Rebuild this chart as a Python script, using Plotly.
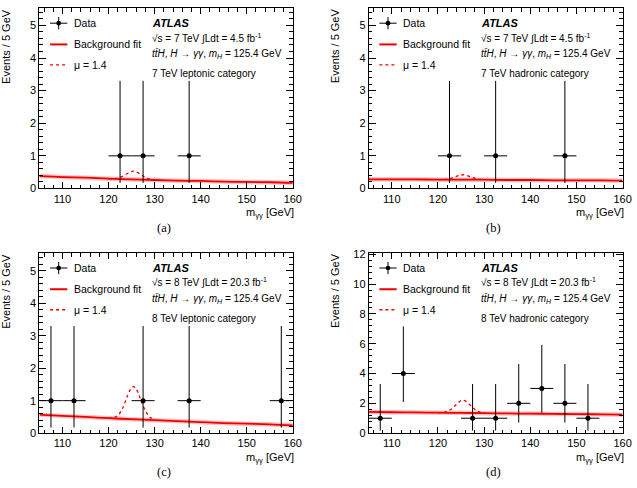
import plotly.graph_objects as go

# ---------------- data ----------------
fit_mass = [105, 110, 115, 120, 125, 130, 135, 140, 145, 150, 155, 160]
bkg_a = [0.38, 0.35, 0.33, 0.30, 0.28, 0.26, 0.24, 0.23, 0.21, 0.20, 0.19, 0.17]
bkg_b = [0.28, 0.28, 0.28, 0.27, 0.27, 0.27, 0.26, 0.26, 0.25, 0.25, 0.25, 0.24]
bkg_c = [0.57, 0.53, 0.50, 0.46, 0.43, 0.40, 0.37, 0.34, 0.31, 0.29, 0.27, 0.24]
bkg_d = [1.42, 1.40, 1.39, 1.37, 1.36, 1.34, 1.32, 1.31, 1.29, 1.28, 1.26, 1.24]

sig_mass = [120, 121, 122, 123, 124, 125, 125.4, 126, 127, 128, 129, 130]
sig_a = [0.30, 0.30, 0.32, 0.37, 0.45, 0.52, 0.53, 0.51, 0.43, 0.34, 0.28, 0.26]
sig_b = [0.27, 0.27, 0.29, 0.32, 0.37, 0.41, 0.42, 0.41, 0.36, 0.31, 0.28, 0.27]
sig_c = [0.46, 0.47, 0.54, 0.75, 1.11, 1.40, 1.43, 1.36, 1.03, 0.69, 0.49, 0.41]
sig_d = [1.37, 1.39, 1.45, 1.63, 1.93, 2.18, 2.21, 2.15, 1.87, 1.59, 1.42, 1.35]

data_mass_a = [122.5, 127.5, 137.5]
data_ev_a = [1, 1, 1]
data_mass_b = [122.5, 132.5, 147.5]
data_ev_b = [1, 1, 1]
data_mass_c = [107.5, 112.5, 127.5, 137.5, 157.5]
data_ev_c = [1, 1, 1, 1, 1]
data_mass_d = [107.5, 112.5, 127.5, 132.5, 137.5, 142.5, 147.5, 152.5]
data_ev_d = [1, 4, 1, 1, 2, 3, 2, 1]

# Poisson error bar extents
err_up_by_n = {1: 2.30, 2: 2.64, 3: 2.92, 4: 3.16}
err_dn_by_n = {1: 0.83, 2: 1.29, 3: 1.63, 4: 1.91}
bin_width = 5

sqrt_s = ["7", "7", "8", "8"]
lumi = ["4.5", "4.5", "20.3", "20.3"]
category = ["7 TeV leptonic category", "7 TeV hadronic category",
            "8 TeV leptonic category", "8 TeV hadronic category"]
captions = ["(a)", "(b)", "(c)", "(d)"]
y_max = [5.52, 5.52, 5.54, 12.07]
y_dtick = [1, 1, 1, 2]
y_minor = [0.2, 0.2, 0.2, 0.4]
x_ticks = [110, 120, 130, 140, 150, 160]

# ---------------- layout geometry (pixels) ----------------
W, H = 637, 488
cols = [(40, 297), (374, 631.5)]
rows = [(3.5, 187.7), (254, 438)]

panels = [
    dict(bkg=bkg_a, sig=sig_a, xm=data_mass_a, ev=data_ev_a),
    dict(bkg=bkg_b, sig=sig_b, xm=data_mass_b, ev=data_ev_b),
    dict(bkg=bkg_c, sig=sig_c, xm=data_mass_c, ev=data_ev_c),
    dict(bkg=bkg_d, sig=sig_d, xm=data_mass_d, ev=data_ev_d),
]

FONT = "Liberation Sans, Arial, sans-serif"
fig = go.Figure()
shapes = []
annotations = []

for i, p in enumerate(panels):
    r, c = divmod(i, 2)
    x0p, x1p = cols[c]
    y0p, y1p = rows[r]
    sfx = "" if i == 0 else str(i + 1)
    osfx = str(i + 5)
    xa, ya = "x" + sfx, "y" + sfx
    oxa, oya = "x" + osfx, "y" + osfx
    dom_x = [x0p / W, x1p / W]
    dom_y = [1 - y1p / H, 1 - y0p / H]

    axis_common = dict(showline=True, linecolor="black", linewidth=1, mirror="allticks",
                       ticks="inside", tickcolor="black", tickwidth=1,
                       showgrid=False, zeroline=False,
                       tickfont=dict(family=FONT, size=11, color="black"))
    xminor = dict(ticks="inside", dtick=2, ticklen=3.5, tickcolor="black", showgrid=False)
    yminor = dict(ticks="inside", dtick=y_minor[i], ticklen=3.5, tickcolor="black", showgrid=False)
    fig.layout["xaxis" + sfx] = dict(domain=dom_x, anchor=ya, range=[105, 160],
                                     tickvals=x_ticks, ticklen=6, minor=xminor, **axis_common)
    fig.layout["yaxis" + sfx] = dict(domain=dom_y, anchor=xa, range=[0, y_max[i]],
                                     dtick=y_dtick[i], tick0=0, ticklen=7, minor=yminor,
                                     **axis_common)
    # mirrored tick axes (top / right) so that minor ticks also appear there
    fig.layout["xaxis" + osfx] = dict(domain=dom_x, anchor=oya, overlaying=xa, side="top",
                                      range=[105, 160], tickvals=x_ticks, ticks="inside",
                                      ticklen=6, tickcolor="black", showticklabels=False,
                                      showgrid=False, zeroline=False, minor=xminor)
    fig.layout["yaxis" + osfx] = dict(domain=dom_y, anchor=oxa, overlaying=ya, side="right",
                                      range=[0, y_max[i]], dtick=y_dtick[i], tick0=0,
                                      ticks="inside", ticklen=7, tickcolor="black",
                                      showticklabels=False, showgrid=False, zeroline=False,
                                      minor=yminor)
    fig.add_trace(go.Scatter(x=[], y=[], xaxis=oxa, yaxis=oya, showlegend=False))

    # background band + fit
    fig.add_trace(go.Scatter(x=fit_mass, y=p["bkg"], mode="lines", xaxis=xa, yaxis=ya,
                             line=dict(color="rgba(255,80,80,0.35)", width=4.5, shape="spline"),
                             showlegend=False, hoverinfo="skip"))
    fig.add_trace(go.Scatter(x=fit_mass, y=p["bkg"], mode="lines", xaxis=xa, yaxis=ya,
                             line=dict(color="#ee0000", width=1.8, shape="spline"),
                             showlegend=False))
    # signal + background (mu = 1.4)
    fig.add_trace(go.Scatter(x=sig_mass, y=p["sig"], mode="lines", xaxis=xa, yaxis=ya,
                             line=dict(color="#ee0000", width=1.3, dash="dot", shape="spline"),
                             showlegend=False))
    # data
    fig.add_trace(go.Scatter(x=p["xm"], y=p["ev"], mode="markers", xaxis=xa, yaxis=ya,
                             marker=dict(color="black", size=5),
                             error_y=dict(type="data", symmetric=False,
                                          array=[err_up_by_n[n] for n in p["ev"]],
                                          arrayminus=[err_dn_by_n[n] for n in p["ev"]],
                                          color="black", thickness=1, width=0),
                             error_x=dict(type="constant", value=bin_width / 2,
                                          color="black", thickness=1, width=0),
                             showlegend=False))

    xr, yr = xa + " domain", ya + " domain"
    # ---- legend (drawn in axis-domain coordinates) ----
    lx0, lx1, lxm = 0.042, 0.11, 0.076
    ly = [0.918, 0.800, 0.686]
    shapes.append(dict(type="line", xref=xr, yref=yr, x0=lx0, x1=lx1, y0=ly[0], y1=ly[0],
                       line=dict(color="black", width=1)))
    shapes.append(dict(type="line", xref=xr, yref=yr, x0=lxm, x1=lxm, y0=ly[0] - 0.034, y1=ly[0] + 0.034,
                       line=dict(color="black", width=1)))
    rx, ry = 2.4 / (x1p - x0p), 2.4 / (y1p - y0p)
    shapes.append(dict(type="circle", xref=xr, yref=yr, x0=lxm - rx, x1=lxm + rx,
                       y0=ly[0] - ry, y1=ly[0] + ry, fillcolor="black", line=dict(color="black", width=0)))
    shapes.append(dict(type="line", xref=xr, yref=yr, x0=lx0, x1=lx1, y0=ly[1], y1=ly[1],
                       line=dict(color="#ee0000", width=2)))
    shapes.append(dict(type="line", xref=xr, yref=yr, x0=lx0, x1=lx1, y0=ly[2], y1=ly[2],
                       line=dict(color="#ee0000", width=1.3, dash="dot")))
    for txt, yy in zip(["Data", "Background fit", "μ = 1.4"], ly):
        annotations.append(dict(xref=xr, yref=yr, x=0.127, y=yy, text=txt, showarrow=False,
                                xanchor="left", yanchor="middle",
                                font=dict(family=FONT, size=10.5, color="black")))

    # ---- ATLAS label block ----
    tx = 0.435
    annotations.append(dict(xref=xr, yref=yr, x=tx, y=0.917, text="<b><i>ATLAS</i></b>",
                            showarrow=False, xanchor="left", yanchor="middle",
                            font=dict(family=FONT, size=11, color="black")))
    annotations.append(dict(xref=xr, yref=yr, x=tx, y=0.838,
                            text="√s = %s TeV ∫Ldt = %s fb<sup>-1</sup>" % (sqrt_s[i], lumi[i]),
                            showarrow=False, xanchor="left", yanchor="middle",
                            font=dict(family=FONT, size=10, color="black")))
    annotations.append(dict(xref=xr, yref=yr, x=tx, y=0.746,
                            text="<i>tt̄H</i>, <i>H</i> → <i>γγ</i>, <i>m<sub>H</sub></i> = 125.4 GeV",
                            showarrow=False, xanchor="left", yanchor="middle",
                            font=dict(family=FONT, size=10, color="black")))
    annotations.append(dict(xref=xr, yref=yr, x=tx, y=0.637, text=category[i],
                            showarrow=False, xanchor="left", yanchor="middle",
                            font=dict(family=FONT, size=10, color="black")))

    # ---- axis titles ----
    annotations.append(dict(xref="paper", yref="paper", x=(x1p + 3) / W, y=1 - (y1p + 16) / H,
                            text="m<sub>γγ</sub> [GeV]", showarrow=False,
                            xanchor="right", yanchor="top",
                            font=dict(family=FONT, size=11, color="black")))
    annotations.append(dict(xref="paper", yref="paper", x=(x0p - 34) / W, y=1 - (y0p - 2) / H,
                            text="Events / 5 GeV", showarrow=False, textangle=-90,
                            xanchor="center", yanchor="top",
                            font=dict(family=FONT, size=11, color="black")))
    # ---- caption ----
    annotations.append(dict(xref="paper", yref="paper", x=(x0p + x1p) / 2 / W - 0.003,
                            y=1 - (y1p + 40) / H, text=captions[i], showarrow=False,
                            xanchor="center", yanchor="middle",
                            font=dict(family="Liberation Serif, Times New Roman, serif", size=12.5, color="black")))

fig.update_layout(width=W, height=H, margin=dict(l=0, r=0, t=0, b=0),
                  paper_bgcolor="white", plot_bgcolor="white",
                  shapes=shapes, annotations=annotations, showlegend=False)

fig.write_html("out.html")
